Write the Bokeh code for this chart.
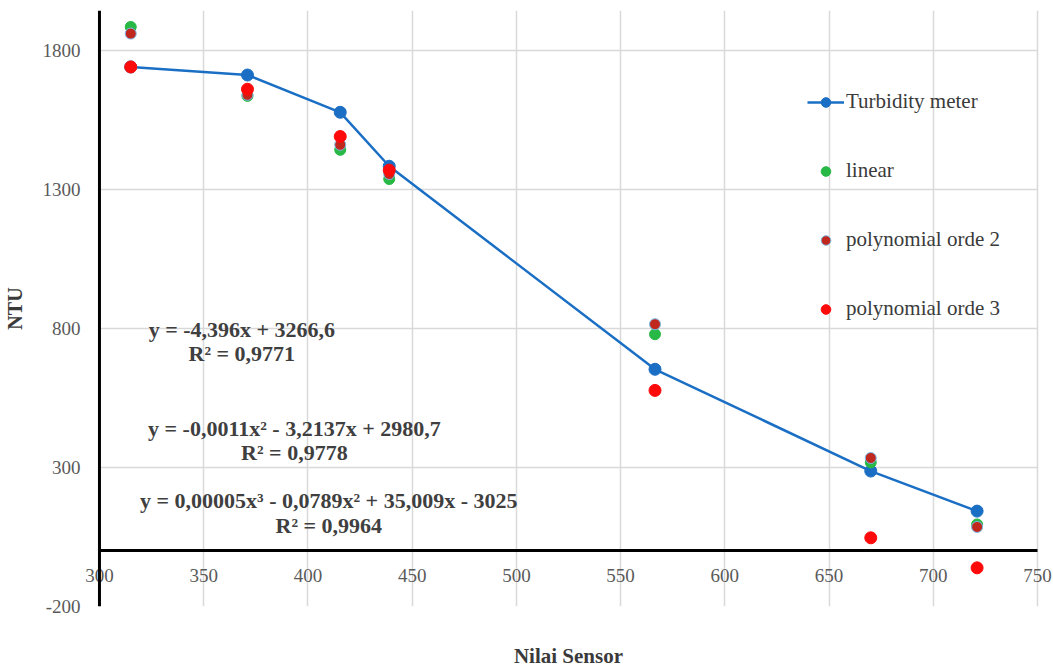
from bokeh.plotting import figure
from bokeh.models import FixedTicker, Legend, LegendItem, Label, LinearAxis, Span
from bokeh.embed import file_html
from bokeh.resources import INLINE

# ---- data ----
sensor = [315, 371, 415.5, 439, 566.5, 670, 721]
turbidity_meter = [1740, 1711, 1577, 1383, 653, 287, 143]
linear = [1884, 1636, 1442, 1337, 779, 318, 95]
poly_order2 = [1860, 1640, 1460, 1355, 815, 334, 86]
poly_order3 = [1740, 1660, 1490, 1369, 577, 47, -61]

x_ticks = [300, 350, 400, 450, 500, 550, 600, 650, 700, 750]
y_ticks = [-200, 300, 800, 1300, 1800]
y_tick_labels = ["-200", "300", "800", "1300", "1800"]

eq_linear = ["y = -4,396x + 3266,6", "R² = 0,9771"]
eq_poly2 = ["y = -0,0011x² - 3,2137x + 2980,7", "R² = 0,9778"]
eq_poly3 = ["y = 0,00005x³ - 0,0789x² + 35,009x - 3025", "R² = 0,9964"]

SERIF = "Liberation Serif"

X0, X1 = x_ticks[0], x_ticks[-1]
PAD = 16 / 2.089  # a little room so the end tick labels are not clipped

p = figure(width=1053, height=670, x_range=(X0 - PAD, X1 + PAD), y_range=(-200, 1943),
           output_backend="svg", toolbar_location=None,
           min_border_left=81, min_border_right=0, min_border_top=10, min_border_bottom=60)
p.outline_line_color = None
p.background_fill_color = "white"

# grid
p.xgrid.ticker = FixedTicker(ticks=x_ticks)
p.ygrid.ticker = FixedTicker(ticks=y_ticks)
p.ygrid.cross_bounds = (X0, X1)
for g in (p.xgrid, p.ygrid):
    g.grid_line_color = "#d9d9d9"
    g.grid_line_width = 1.5

# x axis crossing at y = 0
xa = p.xaxis[0]
xa.ticker = FixedTicker(ticks=x_ticks)
xa.fixed_location = 0
xa.bounds = (X0, X1)
xa.axis_line_color = "black"
xa.axis_line_width = 3
xa.major_tick_line_color = None
xa.minor_tick_line_color = None
xa.major_tick_out = 0
xa.major_label_standoff = 18
xa.major_label_text_font = SERIF
xa.major_label_text_font_size = "19px"
xa.major_label_text_color = "#5a5a5a"

# y axis (labels on the left panel, axis line drawn at x = 300)
ya = p.yaxis[0]
ya.ticker = FixedTicker(ticks=y_ticks)
ya.major_label_overrides = dict(zip(y_ticks, y_tick_labels))
ya.axis_line_color = None
ya.major_tick_line_color = None
ya.minor_tick_line_color = None
ya.major_tick_out = 0
ya.major_label_standoff = 3
ya.major_label_text_font = SERIF
ya.major_label_text_font_size = "19px"
ya.major_label_text_color = "#5a5a5a"
ya.axis_label = "NTU"
ya.axis_label_standoff = 14
ya.axis_label_text_font = SERIF
ya.axis_label_text_font_style = "bold"
ya.axis_label_text_font_size = "20px"
ya.axis_label_text_color = "#3a3a3a"
p.add_layout(Span(location=X0, dimension="height", line_color="black", line_width=3, level="guide"))

# x axis title at the bottom
xt = LinearAxis(ticker=FixedTicker(ticks=[]), axis_label="Nilai Sensor",
                axis_line_color=None, major_tick_line_color=None, minor_tick_line_color=None,
                major_tick_out=0, major_label_standoff=0, axis_label_standoff=37,
                axis_label_text_font=SERIF, axis_label_text_font_style="bold",
                axis_label_text_font_size="21px", axis_label_text_color="#3a3a3a")
p.add_layout(xt, "below")

# series
BLUE = "#1a6fc4"
line_r = p.line(sensor, turbidity_meter, line_color=BLUE, line_width=2.5)
blue_r = p.scatter(sensor, turbidity_meter, size=12, fill_color=BLUE, line_color=BLUE)
green_r = p.scatter(sensor, linear, size=11, fill_color="#28b846", line_color="#28b846")
dred_r = p.scatter(sensor, poly_order2, size=11, fill_color="#c0281e", line_color="#7ab8e8", line_width=1)
red_r = p.scatter(sensor, poly_order3, size=12, fill_color="#ff0a0a", line_color="#ff0a0a")

legend = Legend(items=[
    LegendItem(label="Turbidity meter", renderers=[line_r, blue_r]),
    LegendItem(label="linear", renderers=[green_r]),
    LegendItem(label="polynomial orde 2", renderers=[dred_r]),
    LegendItem(label="polynomial orde 3", renderers=[red_r]),
], location=(724, 285), orientation="vertical",
    glyph_width=37, glyph_height=24, label_height=24, spacing=44,
    padding=0, margin=0, label_standoff=2,
    label_text_font=SERIF, label_text_font_size="21px", label_text_color="#3a3a3a",
    background_fill_alpha=0, border_line_color=None)
p.add_layout(legend, "center")

# equation annotations
eq_style = dict(text_align="center", text_baseline="middle", text_font=SERIF,
                text_font_style="bold", text_font_size="22px", text_color="#3f3f3f")
for lines, cx, ys in ((eq_linear, 368.3, (795, 711)),
                      (eq_poly2, 393.5, (440, 352)),
                      (eq_poly3, 410.0, (180, 90))):
    for txt, yy in zip(lines, ys):
        p.add_layout(Label(x=cx, y=yy, text=txt, **eq_style))

open("out.html", "w").write(file_html(p, INLINE))
